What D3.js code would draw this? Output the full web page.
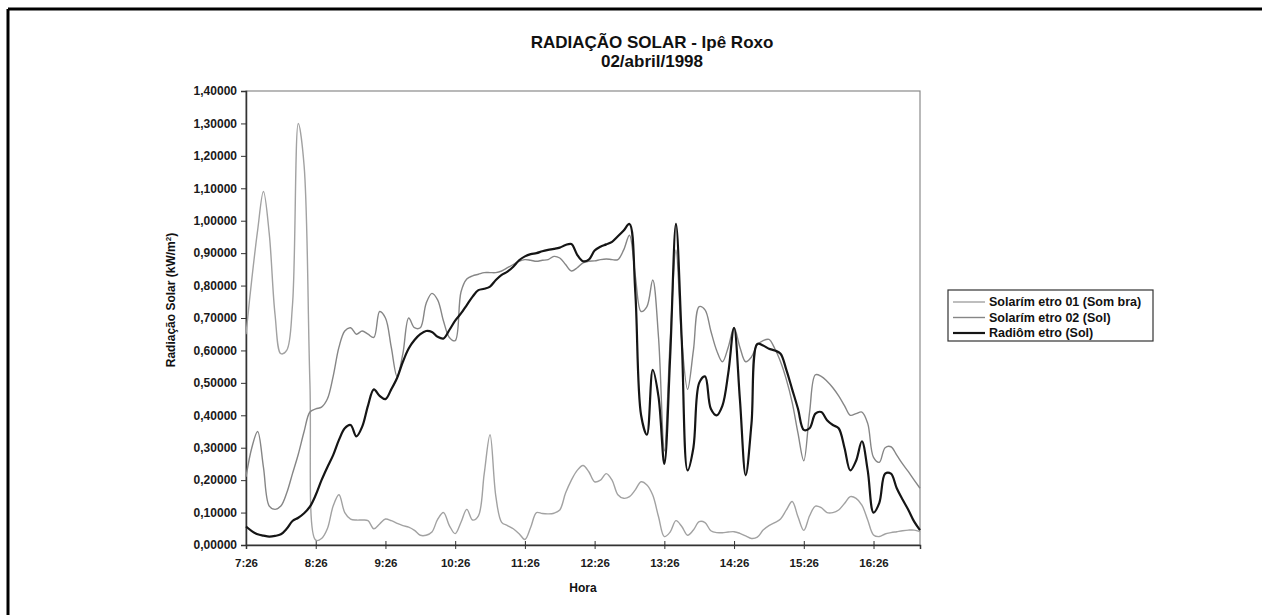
<!DOCTYPE html>
<html>
<head>
<meta charset="utf-8">
<script src="https://cdn.jsdelivr.net/npm/d3@7"></script>
<style>
  html, body { margin: 0; padding: 0; background: #fff; overflow: hidden; }
  svg { display: block; overflow: hidden; font-family: "Liberation Sans", Arial, sans-serif; }
</style>
</head>
<body>
<svg id="chart" width="1262" height="615"></svg>
<script>
// readings every 5 minutes, starting at 7:26
const startLabel = "7:26";
const stepMinutes = 5;
const tickLabels = ["7:26", "8:26", "9:26", "10:26", "11:26", "12:26", "13:26", "14:26", "15:26", "16:26"];
const yTicks = [0, 0.1, 0.2, 0.3, 0.4, 0.5, 0.6, 0.7, 0.8, 0.9, 1.0, 1.1, 1.2, 1.3, 1.4];

const sombra = [
  0.65, 0.82, 0.97, 1.09, 0.96, 0.71, 0.59, 0.60, 0.74, 1.30,
  1.17, 0.50, 0.015, 0.02, 0.05, 0.12, 0.155, 0.10, 0.08, 0.077,
  0.077, 0.075, 0.05, 0.065, 0.08, 0.075, 0.067, 0.06, 0.055, 0.045,
  0.03, 0.03, 0.04, 0.08, 0.10, 0.06, 0.035, 0.07, 0.11, 0.077,
  0.09, 0.22, 0.34, 0.15, 0.07, 0.06, 0.05, 0.035, 0.017, 0.055,
  0.10, 0.097, 0.096, 0.098, 0.108, 0.16, 0.20, 0.23, 0.245, 0.226,
  0.195, 0.20, 0.22, 0.20, 0.155, 0.144, 0.149, 0.17, 0.195, 0.185,
  0.154, 0.087, 0.026, 0.04, 0.075, 0.057, 0.03, 0.046, 0.072, 0.069,
  0.044, 0.038, 0.038, 0.04, 0.041, 0.036, 0.028, 0.02, 0.024, 0.046,
  0.06, 0.069, 0.08, 0.108, 0.134, 0.087, 0.045, 0.09, 0.12, 0.115,
  0.10, 0.10, 0.108, 0.128, 0.149, 0.144, 0.123, 0.077, 0.031, 0.026,
  0.034, 0.038, 0.041, 0.044, 0.046, 0.046, 0.041
];

const sol02 = [
  0.21, 0.30, 0.35, 0.24, 0.12, 0.11, 0.12, 0.16, 0.22, 0.28,
  0.35, 0.41, 0.42, 0.425, 0.45, 0.52, 0.61, 0.66, 0.67, 0.65,
  0.66, 0.65, 0.64, 0.72, 0.70, 0.61, 0.52, 0.59, 0.70, 0.67,
  0.67, 0.745, 0.776, 0.755, 0.69, 0.64, 0.63, 0.78, 0.82, 0.83,
  0.835, 0.84, 0.84, 0.84, 0.845, 0.855, 0.865, 0.875, 0.88, 0.878,
  0.875, 0.878, 0.88, 0.89, 0.885, 0.865, 0.845, 0.855, 0.87, 0.875,
  0.876, 0.88, 0.882, 0.88, 0.88, 0.91, 0.955, 0.83, 0.72, 0.735,
  0.817, 0.64, 0.29, 0.63, 0.91, 0.63, 0.48, 0.60, 0.735, 0.725,
  0.66, 0.60, 0.565, 0.61, 0.67, 0.61, 0.565, 0.58, 0.617, 0.63,
  0.634, 0.606, 0.565, 0.51, 0.44, 0.345, 0.26, 0.41, 0.525, 0.52,
  0.505, 0.485, 0.46, 0.43, 0.40, 0.405, 0.41, 0.375, 0.27, 0.255,
  0.30, 0.303, 0.277, 0.25, 0.226, 0.20, 0.175
];

const radiometro = [
  0.057, 0.043, 0.033, 0.029, 0.026, 0.028, 0.033, 0.05, 0.074, 0.084,
  0.098, 0.118, 0.154, 0.20, 0.24, 0.277, 0.324, 0.36, 0.37, 0.335,
  0.365, 0.43, 0.48, 0.46, 0.45, 0.48, 0.515, 0.565, 0.606, 0.632,
  0.65, 0.66, 0.657, 0.642, 0.637, 0.663, 0.692, 0.714, 0.74, 0.766,
  0.786, 0.79, 0.797, 0.817, 0.833, 0.843, 0.858, 0.878, 0.89, 0.897,
  0.90, 0.906, 0.91, 0.913, 0.917, 0.925, 0.928, 0.895, 0.875, 0.88,
  0.908, 0.92, 0.927, 0.935, 0.952, 0.97, 0.99, 0.78, 0.40, 0.34,
  0.54, 0.457, 0.25, 0.58, 0.99, 0.63, 0.23, 0.30, 0.50, 0.52,
  0.42, 0.40, 0.43, 0.53, 0.67, 0.45, 0.215, 0.375, 0.62, 0.615,
  0.605, 0.60, 0.59, 0.54, 0.48, 0.42, 0.355, 0.36, 0.405, 0.41,
  0.385, 0.37, 0.36, 0.30, 0.23, 0.26, 0.32, 0.23, 0.10, 0.13,
  0.22, 0.22, 0.175, 0.14, 0.108, 0.072, 0.046
];

const seriesNames = ["Solarím etro 01 (Som bra)", "Solarím etro 02 (Sol)", "Radiôm etro (Sol)"];

const series = [
  { name: seriesNames[0], values: sombra, color: "#a2a2a2", width: 1.4 },
  { name: seriesNames[1], values: sol02, color: "#868686", width: 1.4 },
  { name: seriesNames[2], values: radiometro, color: "#151515", width: 2.2 },
];

const plot = { left: 246, top: 91, right: 920, bottom: 545 };
const svg = d3.select("#chart");

// outer chart frame, only top and left edges are in the scan
svg.append("line")
  .attr("x1", 8).attr("y1", 9).attr("x2", 1300).attr("y2", 9)
  .attr("stroke", "#000")
  .attr("stroke-width", 3);
svg.append("line")
  .attr("x1", 8).attr("y1", 9).attr("x2", 8).attr("y2", 640)
  .attr("stroke", "#000")
  .attr("stroke-width", 3);

const lastMinute = (sombra.length - 1) * stepMinutes;
const x = d3.scaleLinear().domain([0, lastMinute]).range([plot.left, plot.right]);
const y = d3.scaleLinear().domain([0, 1.4]).range([plot.bottom, plot.top]);

// plot area box
svg.append("rect")
  .attr("x", plot.left)
  .attr("y", plot.top)
  .attr("width", plot.right - plot.left)
  .attr("height", plot.bottom - plot.top)
  .attr("fill", "none")
  .attr("stroke", "#8a8a8a")
  .attr("stroke-width", 1.2);

// y axis
const yAxis = d3.axisLeft(y)
  .tickValues(yTicks)
  .tickSize(5)
  .tickPadding(4)
  .tickFormat((d) => d.toFixed(5).replace(".", ","));

svg.append("g")
  .attr("transform", `translate(${plot.left},0)`)
  .call(yAxis)
  .call((g) => g.select(".domain").attr("stroke", "#333").attr("stroke-width", 1.5))
  .call((g) => g.selectAll(".tick line").attr("stroke", "#333"))
  .call((g) => g.selectAll("text")
    .attr("font-size", 12)
    .attr("font-weight", "bold")
    .attr("fill", "#1a1a1a")
    .attr("font-family", "Liberation Sans, Arial, sans-serif"));

// x axis, ticks every hour from 7:26
const xAxis = d3.axisBottom(x)
  .tickValues(tickLabels.map((d, i) => i * 60))
  .tickSize(4)
  .tickPadding(10)
  .tickFormat((d, i) => tickLabels[i]);

svg.append("g")
  .attr("transform", `translate(0,${plot.bottom})`)
  .call(xAxis)
  .call((g) => g.select(".domain").attr("stroke", "#333").attr("stroke-width", 1.5))
  .call((g) => g.selectAll(".tick line").attr("y1", -4).attr("stroke", "#333"))
  .call((g) => g.selectAll("text")
    .attr("font-size", 11.5)
    .attr("font-weight", "bold")
    .attr("fill", "#1a1a1a")
    .attr("font-family", "Liberation Sans, Arial, sans-serif"));

// lines, smoothed like the spreadsheet chart
const line = d3.line()
  .x((d, i) => x(i * stepMinutes))
  .y((d) => y(d))
  .curve(d3.curveCatmullRom.alpha(0.5));

svg.append("g")
  .selectAll("path")
  .data(series)
  .enter()
  .append("path")
  .attr("d", (s) => line(s.values))
  .attr("fill", "none")
  .attr("stroke", (s) => s.color)
  .attr("stroke-width", (s) => s.width)
  .attr("stroke-linejoin", "round");

// titles
const title = svg.append("text")
  .attr("text-anchor", "middle")
  .attr("font-size", 17)
  .attr("font-weight", "bold")
  .attr("fill", "#111");
title.append("tspan").attr("x", 652).attr("y", 48).text("RADIAÇÃO SOLAR - Ipê Roxo");
title.append("tspan").attr("x", 652).attr("y", 67).text("02/abril/1998");

svg.append("text")
  .attr("x", (plot.left + plot.right) / 2)
  .attr("y", 592)
  .attr("text-anchor", "middle")
  .attr("font-size", 12)
  .attr("font-weight", "bold")
  .attr("fill", "#111")
  .text("Hora");

const yTitle = svg.append("text")
  .attr("transform", "translate(175,300) rotate(-90)")
  .attr("text-anchor", "middle")
  .attr("font-size", 12)
  .attr("font-weight", "bold")
  .attr("fill", "#111");
yTitle.append("tspan").text("Radiação Solar (kW/m");
yTitle.append("tspan").attr("font-size", 8).attr("dy", -4).text("2");
yTitle.append("tspan").attr("dy", 4).text(")");

// legend
const legend = svg.append("g").attr("transform", "translate(948,290)");
legend.append("rect")
  .attr("width", 205)
  .attr("height", 51)
  .attr("fill", "#fff")
  .attr("stroke", "#333")
  .attr("stroke-width", 1.2);

const items = legend.selectAll("g.item")
  .data(series)
  .enter()
  .append("g")
  .attr("class", "item")
  .attr("transform", (s, i) => `translate(0,${12 + i * 15.5})`);

items.append("line")
  .attr("x1", 5)
  .attr("x2", 37)
  .attr("stroke", (s) => s.color)
  .attr("stroke-width", (s) => s.width);

items.append("text")
  .attr("x", 41)
  .attr("y", 4)
  .attr("font-size", 12.5)
  .attr("font-weight", "bold")
  .attr("fill", "#111")
  .text((s) => s.name);
</script>
</body>
</html>
